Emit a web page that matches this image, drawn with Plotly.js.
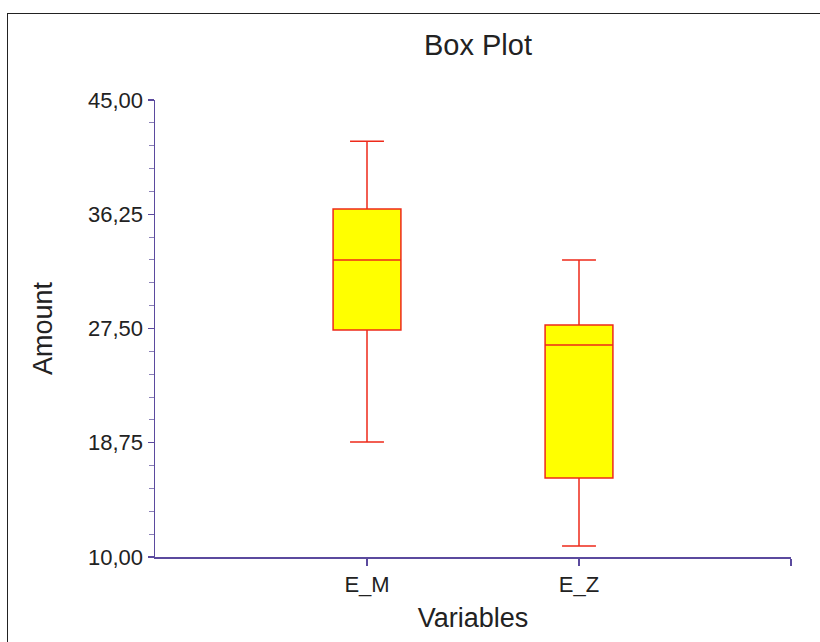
<!DOCTYPE html>
<html>
<head>
<meta charset="utf-8">
<script src="https://cdn.plot.ly/plotly-3.0.1.min.js"></script>
<style>
  html, body { margin: 0; padding: 0; background: #fff; }
  #frame { position: absolute; left: 7px; top: 13px; width: 830px; height: 660px; border-left: 1.5px solid #222; border-top: 1.5px solid #222; pointer-events: none; }
  #chart { width: 820px; height: 642px; }
</style>
</head>
<body>
<div id="chart"></div>
<div id="frame"></div>
<script>
const categories = ['E_M', 'E_Z'];
const categoryPos = [1, 2];
const lowerWhisker = [18.8, 10.84];
const q1Values = [27.38, 16.05];
const medianValues = [32.74, 26.23];
const q3Values = [36.65, 27.76];
const upperWhisker = [41.85, 32.74];
const yTickVals = [10, 18.75, 27.5, 36.25, 45];
const yTickText = ['10,00', '18,75', '27,50', '36,25', '45,00'];

const axisColor = '#5b4a9e';
const font = 'Liberation Sans, Arial, sans-serif';

const trace = {
  type: 'box',
  x: categoryPos,
  q1: q1Values,
  median: medianValues,
  q3: q3Values,
  lowerfence: lowerWhisker,
  upperfence: upperWhisker,
  width: 0.32,
  whiskerwidth: 0.5,
  fillcolor: '#ffff00',
  line: { color: '#ee2a1a', width: 1.5 },
  boxpoints: false,
  hoverinfo: 'skip',
  showlegend: false
};

const layout = {
  width: 820, height: 642,
  margin: { l: 155, r: 29, t: 100, b: 85 },
  paper_bgcolor: '#ffffff',
  plot_bgcolor: '#ffffff',
  font: { family: font, color: '#222' },
  title: { text: 'Box Plot', font: { size: 29, family: font, color: '#222' }, x: 0.5829, xanchor: 'center', y: 0.93, yanchor: 'middle' },
  xaxis: {
    range: [0, 3],
    tickvals: [categoryPos[0], categoryPos[1], 3],
    ticktext: [categories[0], categories[1], ''],
    ticks: 'outside', ticklen: 7, tickcolor: axisColor, tickwidth: 1.2,
    showline: true, linecolor: axisColor, linewidth: 1.5,
    showgrid: false, zeroline: false,
    tickfont: { size: 22, family: font, color: '#222' },
    title: { text: 'Variables', font: { size: 27, family: font, color: '#222' }, standoff: 12 }
  },
  yaxis: {
    range: [10, 45],
    tickvals: yTickVals,
    ticktext: yTickText,
    ticks: 'outside', ticklen: 6, tickcolor: axisColor, tickwidth: 1.2,
    minor: { dtick: 1.75, tick0: 10, ticks: 'outside', ticklen: 5, tickcolor: '#8a80b8', tickwidth: 1, showgrid: false },
    showline: true, linecolor: axisColor, linewidth: 1.5,
    showgrid: false, zeroline: false,
    tickfont: { size: 22, family: font, color: '#222' },
    title: { text: 'Amount', font: { size: 27, family: font, color: '#222' }, standoff: 27 }
  }
};

Plotly.newPlot('chart', [trace], layout, { displayModeBar: false, staticPlot: true });
</script>
</body>
</html>
